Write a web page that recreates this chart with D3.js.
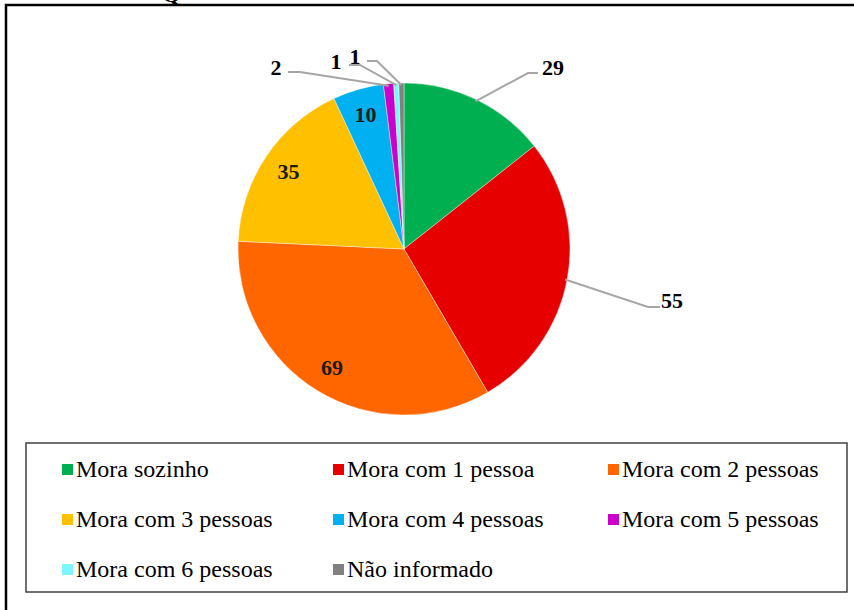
<!DOCTYPE html>
<html>
<head>
<meta charset="utf-8">
<script src="https://cdn.jsdelivr.net/npm/d3@7"></script>
<style>
  body { margin: 0; background: #fff; }
  svg { display: block; }
  text { font-family: 'Liberation Serif', 'Times New Roman', 'DejaVu Serif', serif; }
</style>
</head>
<body>
<script>
const categories = ['Mora sozinho', 'Mora com 1 pessoa', 'Mora com 2 pessoas', 'Mora com 3 pessoas',
     'Mora com 4 pessoas', 'Mora com 5 pessoas', 'Mora com 6 pessoas', 'Não informado']
const values = [29, 55, 69, 35, 10, 2, 1, 1]
const colors = ['#00b050', '#e60000', '#ff6600', '#ffc000', '#00b0f0', '#cc00cc', '#7ff5ff', '#808080']

const w = 854
const h = 610
const cx = 404
const cy = 249
const r = 166

const svg = d3.select('body')
     .append('svg')
     .attr('width', w)
     .attr('height', h)

// outer frame (goes off the right and bottom of the picture)
svg.append('rect')
     .attr('x', 6)
     .attr('y', 5)
     .attr('width', 900)
     .attr('height', 700)
     .attr('fill', 'none')
     .attr('stroke', '#000')
     .attr('stroke-width', 2.5)

// bit of title cut off at the top
svg.append('text')
     .attr('x', 162)
     .attr('y', 2)
     .attr('font-weight', 'bold')
     .attr('font-size', 24)
     .text('Q')

const pie = d3.pie().sort(null).value(d => d)
const arcs = pie(values)
const arc = d3.arc().innerRadius(0).outerRadius(r)
const labelArc = d3.arc().innerRadius(139).outerRadius(139)

const g = svg.append('g').attr('transform', `translate(${cx},${cy})`)

g.selectAll('path')
     .data(arcs)
     .enter()
     .append('path')
     .attr('d', arc)
     .attr('fill', (d, i) => colors[i])
     .attr('stroke', '#fff')
     .attr('stroke-width', 0.4)

// labels: inside ones sit on labelArc, outside ones get a leader line
// outside: [elbow x, elbow y, end x, label x, label y] in page pixels
const outside = {
     0: [528, 73, 538, 553, 75],
     1: [648, 307, 660, 672, 308],
     5: [300, 72, 288, 276, 75],
     6: [360, 65, 349, 336, 69],
     7: [377, 61, 367, 355, 64]
}

const edge = d => {
     const a = (d.startAngle + d.endAngle) / 2
     return [cx + (r - 2) * Math.sin(a), cy - (r - 2) * Math.cos(a)]
}

arcs.forEach((d, i) => {
     if (outside[i]) {
          const o = outside[i]
          const p = edge(d)
          svg.append('polyline')
               .attr('points', `${p[0]},${p[1]} ${o[0]},${o[1]} ${o[2]},${o[1]}`)
               .attr('fill', 'none')
               .attr('stroke', '#a6a6a6')
               .attr('stroke-width', 2)
          svg.append('text')
               .attr('x', o[3])
               .attr('y', o[4])
               .attr('text-anchor', 'middle')
               .attr('font-weight', 'bold')
               .attr('font-size', 22)
               .text(values[i])
     } else {
          const c = labelArc.centroid(d)
          g.append('text')
               .attr('x', c[0])
               .attr('y', c[1] + 7)
               .attr('text-anchor', 'middle')
               .attr('font-weight', 'bold')
               .attr('font-size', 22)
               .attr('fill', '#1a1a1a')
               .text(values[i])
     }
})

// legend
svg.append('rect')
     .attr('x', 26)
     .attr('y', 443)
     .attr('width', 821)
     .attr('height', 149)
     .attr('fill', 'none')
     .attr('stroke', '#404040')
     .attr('stroke-width', 1.5)

const colX = [62, 333, 608]
const rowY = [477, 527, 577]

const legend = svg.selectAll('.legend-item')
     .data(categories)
     .enter()
     .append('g')
     .attr('class', 'legend-item')
     .attr('transform', (d, i) => `translate(${colX[i % 3]},${rowY[Math.floor(i / 3)]})`)

legend.append('rect')
     .attr('x', 0)
     .attr('y', -13)
     .attr('width', 11)
     .attr('height', 11)
     .attr('fill', (d, i) => colors[i])

legend.append('text')
     .attr('x', 14)
     .attr('y', 0)
     .attr('font-size', 24)
     .attr('fill', '#000')
     .text(d => d)
</script>
</body>
</html>
